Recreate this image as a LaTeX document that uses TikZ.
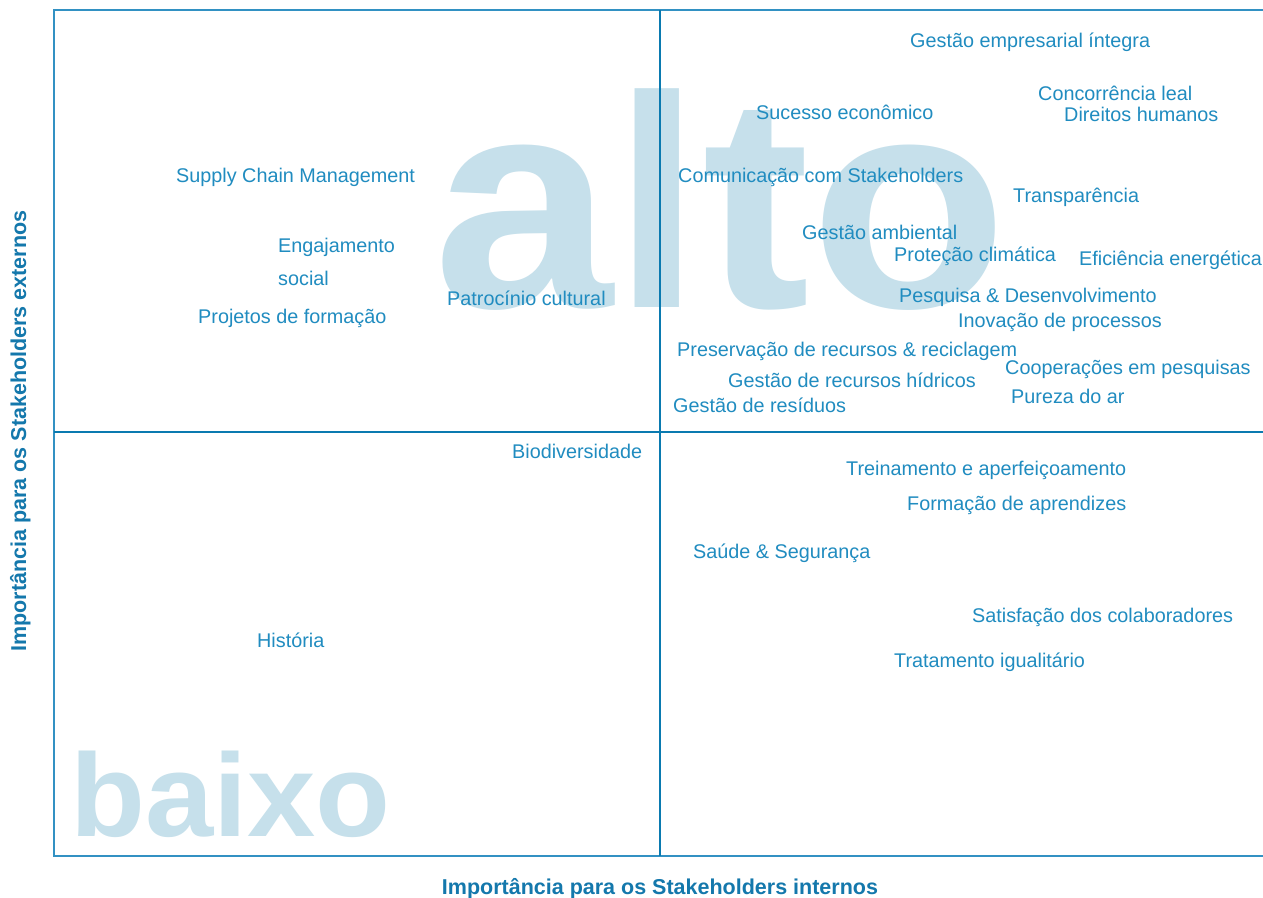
\documentclass[tikz,border=0pt]{standalone}
\usepackage{fontspec}
\setmainfont{Liberation Sans}
\definecolor{txtblue}{RGB}{32,140,192}
\definecolor{axblue}{RGB}{20,120,172}
\definecolor{bigblue}{RGB}{198,224,235}
\definecolor{frameblue}{RGB}{50,145,195}
\definecolor{divblue}{RGB}{10,122,176}
\begin{document}
\begin{tikzpicture}[x=1pt,y=-1pt,
  lbl/.style={anchor=base west, inner sep=0pt, text=txtblue, font=\fontsize{19.8}{23}\selectfont},
  bigword/.style={anchor=base west, inner sep=0pt, text=bigblue},
  axislbl/.style={anchor=base, inner sep=0pt, text=axblue, font=\fontsize{21.5}{25}\selectfont\bfseries},
  framel/.style={draw=frameblue, line width=1.3pt},
  divl/.style={draw=divblue, line width=2.2pt}]
\useasboundingbox (0,0) rectangle (1263,897);
\fill[white] (0,0) rectangle (1263,897);
% big background words
\node[bigword, font=\fontsize{302}{302}\selectfont\bfseries, xscale=1.07] (alto) at (433,307) {alto};
\node[bigword, font=\fontsize{118}{118}\selectfont\bfseries, xscale=1.04] (baixo) at (70,836) {baixo};
% frame
\coordinate (tl) at (54,10);
\coordinate (tr) at (1263,10);
\coordinate (bl) at (54,856);
\coordinate (br) at (1263,856);
\coordinate (vt) at (660,10);
\coordinate (vb) at (660,856);
\coordinate (hl) at (54,432);
\coordinate (hr) at (1263,432);
\draw[framel] (tr) -- (tl) -- (bl) -- (br);
\draw[divl] (vt) -- (vb);
\draw[divl] (hl) -- (hr);
% labels upper left
\node[lbl] (scm) at (176,182) {Supply Chain Management};
\node[lbl] (eng) at (278,252) {Engajamento};
\node[lbl] (soc) at (278,285) {social};
\node[lbl] (pat) at (447,305) {Patrocínio cultural};
\node[lbl] (proj) at (198,323) {Projetos de formação};
% upper right
\node[lbl] (gei) at (910,47) {Gestão empresarial íntegra};
\node[lbl] (conc) at (1038,100) {Concorrência leal};
\node[lbl] (dir) at (1064,121) {Direitos humanos};
\node[lbl] (suc) at (756,119) {Sucesso econômico};
\node[lbl] (com) at (678,182) {Comunicação com Stakeholders};
\node[lbl] (tra) at (1013,202) {Transparência};
\node[lbl] (gam) at (802,239) {Gestão ambiental};
\node[lbl] (pcl) at (894,261) {Proteção climática};
\node[lbl] (efi) at (1079,265) {Eficiência energética};
\node[lbl] (ped) at (899,302) {Pesquisa \& Desenvolvimento};
\node[lbl] (ino) at (958,327) {Inovação de processos};
\node[lbl] (pre) at (677,356) {Preservação de recursos \& reciclagem};
\node[lbl] (coo) at (1005,374) {Cooperações em pesquisas};
\node[lbl] (grh) at (728,387) {Gestão de recursos hídricos};
\node[lbl] (pur) at (1011,403) {Pureza do ar};
\node[lbl] (gre) at (673,412) {Gestão de resíduos};
% lower
\node[lbl] (bio) at (512,458) {Biodiversidade};
\node[lbl] (his) at (257,647) {História};
\node[lbl] (tre) at (846,475) {Treinamento e aperfeiçoamento};
\node[lbl] (for) at (907,510) {Formação de aprendizes};
\node[lbl] (sau) at (693,558) {Saúde \& Segurança};
\node[lbl] (sat) at (972,622) {Satisfação dos colaboradores};
\node[lbl] (trat) at (894,667) {Tratamento igualitário};
% axis labels
\node[axislbl] (xax) at (660,894) {Importância para os Stakeholders internos};
\node[axislbl, rotate=90] (yax) at (26,431) {Importância para os Stakeholders externos};
\end{tikzpicture}
\end{document}
